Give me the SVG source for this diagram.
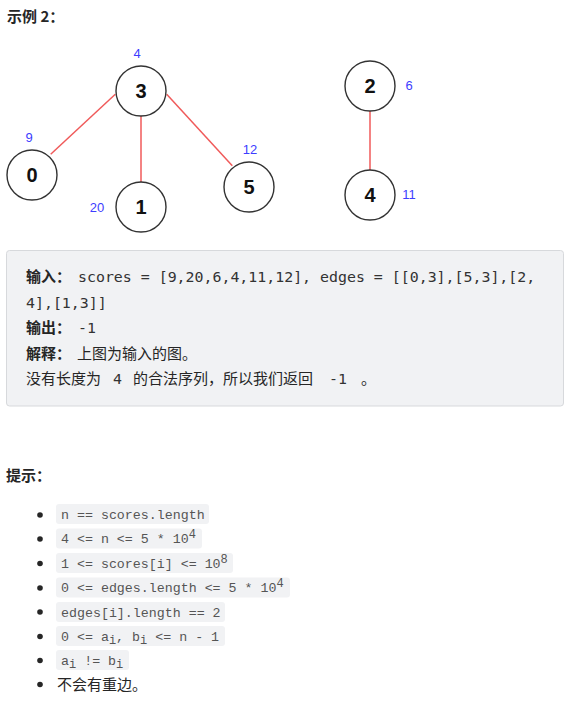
<svg xmlns="http://www.w3.org/2000/svg" width="570" height="702" viewBox="0 0 570 702">
<style>
.node circle{fill:#fff;stroke:#333;stroke-width:1.4}
.nlabel{font-family:"Liberation Sans",Arial,sans-serif;font-weight:bold;font-size:20px;fill:#111;text-anchor:middle}
.score{font-family:"Liberation Sans",Arial,sans-serif;font-size:13px;fill:#3d3dff;text-anchor:middle}
.edge{stroke:#f05a5a;stroke-width:1.5;fill:none}
.cjk{font-family:"Noto Sans CJK SC","Noto Sans",sans-serif;font-size:15px;fill:#262626}
.b{font-weight:bold}
.mono{font-family:"DejaVu Sans Mono","Liberation Mono",monospace;font-size:14.9px;fill:#333}
.code{font-family:"Liberation Mono","DejaVu Sans Mono",monospace;font-size:13.3px;fill:#555}
.cbg{fill:#f1f2f4}
.bul{fill:#262626}
.sup{font-size:12px}
</style>
<rect width="570" height="702" fill="#fff"/>
<text class="cjk b" x="7" y="22" font-size="15.5">示例 2：</text>

<g id="edges">
<line class="edge" x1="115.3" y1="94.3" x2="50.7" y2="154.3"/>
<line class="edge" x1="141" y1="116" x2="141" y2="182"/>
<line class="edge" x1="166.7" y1="94.3" x2="232.3" y2="165.7"/>
<line class="edge" x1="370" y1="111" x2="370" y2="170"/>
</g>

<g id="node-3" class="node"><circle cx="141" cy="91" r="25"/><text class="nlabel" x="141" y="98">3</text><text class="score" x="137" y="57.5">4</text></g>
<g id="node-0" class="node"><circle cx="32" cy="175" r="25"/><text class="nlabel" x="32" y="182">0</text><text class="score" x="29" y="141.5">9</text></g>
<g id="node-1" class="node"><circle cx="141" cy="207" r="25"/><text class="nlabel" x="141" y="214">1</text><text class="score" x="97" y="211.5">20</text></g>
<g id="node-5" class="node"><circle cx="249" cy="187" r="25"/><text class="nlabel" x="249" y="194">5</text><text class="score" x="250" y="153.5">12</text></g>
<g id="node-2" class="node"><circle cx="370" cy="86" r="25"/><text class="nlabel" x="370" y="93">2</text><text class="score" x="409" y="89.5">6</text></g>
<g id="node-4" class="node"><circle cx="370" cy="195" r="25"/><text class="nlabel" x="370" y="202">4</text><text class="score" x="409" y="198.5">11</text></g>

<g id="example-box">
<rect x="6.5" y="250.5" width="557" height="155.5" rx="3" fill="#f1f2f4" stroke="#d7d9dc"/>
<text class="cjk b" x="26" y="282">输入：</text>
<text class="mono" x="78" y="282">scores = [9,20,6,4,11,12], edges = [[0,3],[5,3],[2,</text>
<text class="mono" x="26" y="307.5">4],[1,3]]</text>
<text class="cjk b" x="26" y="333">输出：</text>
<text class="mono" x="78" y="333">-1</text>
<text class="cjk b" x="26" y="358.5">解释：</text>
<text class="cjk" x="77" y="358.5">上图为输入的图。</text>
<text class="cjk" x="26" y="384">没有长度为</text>
<text class="mono" x="113" y="384">4</text>
<text class="cjk" x="133" y="384">的合法序列，所以我们返回</text>
<text class="mono" x="329" y="384">-1</text>
<text class="cjk" x="361" y="384">。</text>
</g>

<text class="cjk b" x="6" y="481" font-size="15.5">提示：</text>

<g id="hints">
<circle class="bul" cx="40" cy="515" r="2.8"/>
<rect class="cbg" x="56" y="504" width="153" height="20" rx="3"/>
<text class="code" x="61" y="518.5">n == scores.length</text>

<circle class="bul" cx="40" cy="539" r="2.8"/>
<rect class="cbg" x="56" y="528.5" width="146" height="20" rx="3"/>
<text class="code" x="61" y="543">4 &lt;= n &lt;= 5 * 10<tspan class="sup" dy="-5">4</tspan></text>

<circle class="bul" cx="40" cy="563.5" r="2.8"/>
<rect class="cbg" x="56" y="553" width="177" height="20" rx="3"/>
<text class="code" x="61" y="567.5">1 &lt;= scores[i] &lt;= 10<tspan class="sup" dy="-5">8</tspan></text>

<circle class="bul" cx="40" cy="588" r="2.8"/>
<rect class="cbg" x="56" y="577.5" width="234" height="20" rx="3"/>
<text class="code" x="61" y="592">0 &lt;= edges.length &lt;= 5 * 10<tspan class="sup" dy="-5">4</tspan></text>

<circle class="bul" cx="40" cy="612" r="2.8"/>
<rect class="cbg" x="56" y="602" width="169" height="20" rx="3"/>
<text class="code" x="61" y="616.5">edges[i].length == 2</text>

<circle class="bul" cx="40" cy="636.5" r="2.8"/>
<rect class="cbg" x="56" y="626" width="169" height="20" rx="3"/>
<text class="code" x="61" y="640.5">0 &lt;= a<tspan class="sup" dy="3">i</tspan><tspan dy="-3">, b</tspan><tspan class="sup" dy="3">i</tspan><tspan dy="-3"> &lt;= n - 1</tspan></text>

<circle class="bul" cx="40" cy="660.5" r="2.8"/>
<rect class="cbg" x="56" y="650" width="73" height="20" rx="3"/>
<text class="code" x="61" y="664.5">a<tspan class="sup" dy="3">i</tspan><tspan dy="-3"> != b</tspan><tspan class="sup" dy="3">i</tspan></text>

<circle class="bul" cx="40" cy="684.5" r="2.8"/>
<text class="cjk" x="57" y="689.5">不会有重边。</text>
</g>
</svg>
